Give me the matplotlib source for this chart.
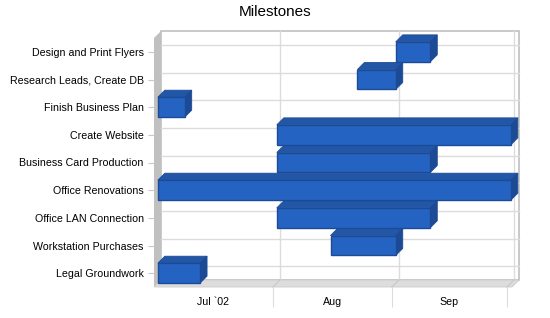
import matplotlib
matplotlib.use("Agg")
import matplotlib.pyplot as plt
from matplotlib.patches import Polygon, Rectangle
import pandas as pd

plt.rcParams["font.family"] = ["Liberation Sans", "DejaVu Sans"]

# ---- data ----
tasks = ["Design and Print Flyers", "Research Leads, Create DB", "Finish Business Plan",
         "Create Website", "Business Card Production", "Office Renovations",
         "Office LAN Connection", "Workstation Purchases", "Legal Groundwork"]
starts = ["2002-09-02", "2002-08-23", "2002-07-02", "2002-08-02", "2002-08-02",
          "2002-07-02", "2002-08-02", "2002-08-16", "2002-07-02"]
ends = ["2002-09-11", "2002-09-02", "2002-07-09", "2002-10-02", "2002-09-11",
        "2002-10-02", "2002-09-11", "2002-09-02", "2002-07-13"]
month_starts = ["2002-07-01", "2002-08-01", "2002-09-01", "2002-10-01"]
month_labels = ["Jul `02", "Aug", "Sep"]
title = "Milestones"

origin = pd.Timestamp(month_starts[0])
def day(s):
    return (pd.Timestamp(s) - origin).days

s_days = [day(s) for s in starts]
e_days = [day(e) for e in ends]
m_days = [day(m) for m in month_starts]
m_mid = [(m_days[i] + m_days[i + 1]) / 2 for i in range(len(month_labels))]

# ---- figure ----
W, H = 550, 318
fig = plt.figure(figsize=(5.5, 3.18), dpi=100)
ax = fig.add_axes([154 / W, 31 / H, 358 / W, 249 / H])
n = len(tasks)
x0, x1 = 0, 93.3
y0, y1 = -0.5, n - 0.5
ax.set_xlim(x0, x1)
ax.set_ylim(y0, y1)
for sp in ax.spines.values():
    sp.set_visible(False)
ax.patch.set_visible(False)

pxx = 358 / (x1 - x0)
pxy = 249 / (y1 - y0)
dx = 7 / pxx
dy = 7 / pxy

# back wall
ax.add_patch(Rectangle((x0 + dx, y0 + dy), x1 - x0, y1 - y0, facecolor="white",
                       edgecolor="#c0c0c0", lw=1.2, clip_on=False, zorder=0))
# back wall grid
for i in range(n):
    ax.plot([x0 + dx, x1 + dx], [i + dy, i + dy], color="#dcdcdc", lw=1,
            clip_on=False, zorder=0.5)
for m in m_days[1:]:
    ax.plot([m + dx, m + dx], [y0 + dy, y1 + dy], color="#dcdcdc", lw=1,
            clip_on=False, zorder=0.5)
# left wall
ax.add_patch(Polygon([(x0, y0), (x0 + dx, y0 + dy), (x0 + dx, y1 + dy), (x0, y1)],
                     closed=True, facecolor="#c0c0c0", edgecolor="none",
                     clip_on=False, zorder=1))
# floor
ax.add_patch(Polygon([(x0, y0), (x0 + dx, y0 + dy), (x1 + dx, y0 + dy), (x1, y0)],
                     closed=True, facecolor="#dddddd", edgecolor="#cccccc", lw=0.6,
                     clip_on=False, zorder=1))
for m in m_days[1:]:
    ax.plot([m, m + dx], [y0, y0 + dy], color="#c8c8c8", lw=0.8,
            clip_on=False, zorder=1.1)

# bars
h = 0.72
front_c, top_c, side_c, edge_c = "#2563c2", "#2257a8", "#1c4a94", "#1d4a96"
for k in range(n - 1, -1, -1):
    y = n - 1 - k
    s, e = s_days[k], e_days[k]
    z = 2 + (n - k) * 0.1
    ax.add_patch(Polygon([(s, y + h / 2), (s + dx, y + h / 2 + dy),
                          (e + dx, y + h / 2 + dy), (e, y + h / 2)],
                         closed=True, facecolor=top_c, edgecolor=edge_c, lw=0.6,
                         clip_on=False, zorder=z))
    ax.add_patch(Polygon([(e, y - h / 2), (e + dx, y - h / 2 + dy),
                          (e + dx, y + h / 2 + dy), (e, y + h / 2)],
                         closed=True, facecolor=side_c, edgecolor=edge_c, lw=0.6,
                         clip_on=False, zorder=z))
    ax.add_patch(Rectangle((s, y - h / 2), e - s, h, facecolor=front_c,
                           edgecolor=edge_c, lw=1, clip_on=False, zorder=z + 0.01))

# y axis
ax.set_yticks(range(n))
ax.set_yticklabels(tasks[::-1], fontsize=7.7)
ax.tick_params(axis="y", length=4.5, width=0.8, color="#c8c8c8", pad=2.8)

# x axis
ax.set_xticks(m_days[1:])
ax.set_xticklabels([])
ax.tick_params(axis="x", which="major", length=14.4, width=0.8, color="#dcdcdc")
ax.set_xticks(m_mid, minor=True)
ax.set_xticklabels(month_labels, minor=True, fontsize=7.7)
ax.tick_params(axis="x", which="minor", length=0, pad=7)

fig.text(275 / W, 1 - 12 / H, title, ha="center", va="center", fontsize=11)

fig.savefig("out.png", dpi=100)
